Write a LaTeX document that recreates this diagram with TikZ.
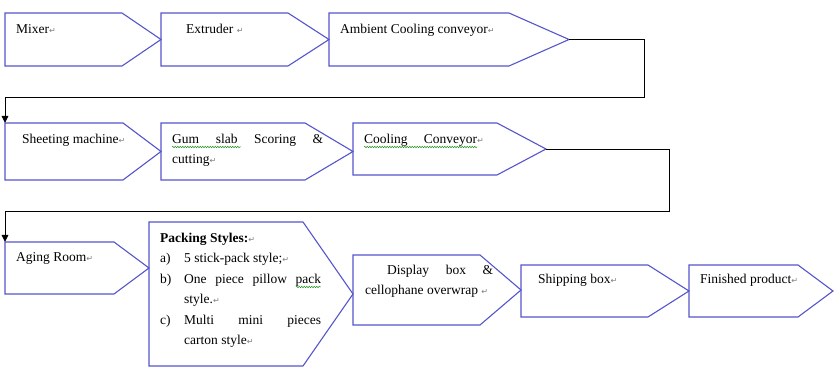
\documentclass[tikz,border=0pt]{standalone}
\usepackage{fontspec}
\setmainfont{Liberation Serif}
\newfontfamily\symfont{DejaVu Sans}
\usetikzlibrary{arrows.meta,decorations.pathmorphing}
\definecolor{boxblue}{RGB}{85,85,205}
\definecolor{markgray}{RGB}{125,125,125}
\definecolor{spellgreen}{RGB}{40,150,40}
\newcommand\retmark{{\symfont\fontsize{8}{8}\selectfont\color{markgray}↵}}
\newcommand\shapebox[7]{%
  \draw[boxline] (#2,#3) -- (#5,#3) -- (#6,#7) -- (#5,#4) -- (#2,#4) -- cycle;
  \coordinate (#1-tip) at (#6,#7);
  \coordinate (#1-tl) at (#2,#3);}
\tikzset{
  boxline/.style={draw=boxblue, line width=1.1pt, line join=miter},
  conn/.style={draw=black, line width=0.9pt, -{Triangle[length=7pt,width=6.5pt]}},
  txt/.style={anchor=base west, inner sep=0pt, font=\fontsize{13.5}{16}\selectfont},
  spell/.style={draw=spellgreen, line width=0.5pt, decorate, decoration={snake, segment length=2.5pt, amplitude=0.8pt}}
}
\begin{document}
\begin{tikzpicture}[x=1pt,y=-1pt]
\useasboundingbox (0,0) rectangle (839,387);
% row 1
\shapebox{mixer}{5}{13}{66}{122}{161}{39.5}
\shapebox{extr}{161}{13}{66}{288}{329}{39.5}
\shapebox{amb}{329}{13}{66}{509}{569}{39.5}
% row 2
\shapebox{sheet}{5}{123}{180}{123}{161}{151.5}
\shapebox{gum}{161}{123}{180}{305}{353}{151.5}
\shapebox{cool}{353}{123}{175}{497}{546}{149}
% row 3
\shapebox{aging}{5}{242}{294}{114}{149}{268}
\shapebox{pack}{149}{222}{366}{303}{353}{294}
\shapebox{disp}{353}{255}{325}{480}{521}{290}
\shapebox{ship}{521}{265}{317}{648}{689}{291}
\shapebox{fin}{689}{265}{317}{798}{833}{291}
% connectors
\coordinate (turn1) at (644,97);
\coordinate (turn2) at (669,211);
\draw[conn] (amb-tip) -| (turn1) -| (sheet-tl);
\draw[conn] (cool-tip) -| (turn2) -| (aging-tl);
% texts row 1
\node[txt] (tmixer) at (16,34) {Mixer\retmark};
\node[txt] (textr) at (186,34) {Extruder \retmark};
\node[txt] (tamb) at (340,34) {Ambient Cooling conveyor\retmark};
% texts row 2
\node[txt] (tsheet) at (22,144) {Sheeting machine\retmark};
\node[txt] (tgum1) at (172,144) {\makebox[151pt][s]{Gum slab Scoring \&}};
\node[txt] (tgum2) at (172,164) {cutting\retmark};
\node[txt] (tcool) at (364,144) {\makebox[113pt][s]{Cooling Conveyor}\retmark};
\draw[spell] (172,147) -- (241,147);
\draw[spell] (364,147) -- (477,147);
% texts row 3
\node[txt] (taging) at (16,262) {Aging Room\retmark};
\node[txt] (tpack0) at (160,243) {\textbf{Packing Styles:}\retmark};
\node[txt] (tpa) at (160,263) {a)};
\node[txt] (tpa2) at (184,263) {5 stick-pack style;\retmark};
\node[txt] (tpb) at (160,284) {b)};
\node[txt] (tpb2) at (184,284) {\makebox[137pt][s]{One piece pillow pack}};
\node[txt] (tpb3) at (184,304) {style.\retmark};
\node[txt] (tpc) at (160,325) {c)};
\node[txt] (tpc2) at (184,325) {\makebox[137pt][s]{Multi mini pieces}};
\node[txt] (tpc3) at (184,345) {carton style\retmark};
\draw[spell] (296,287) -- (321,287);
\node[txt] (tdisp1) at (387,275) {\makebox[106pt][s]{Display box \&}};
\node[txt] (tdisp2) at (365,295) {cellophane overwrap \retmark};
\node[txt] (tship) at (538,284) {Shipping box\retmark};
\node[txt] (tfin) at (700,284) {Finished product\retmark};
\end{tikzpicture}
\end{document}
